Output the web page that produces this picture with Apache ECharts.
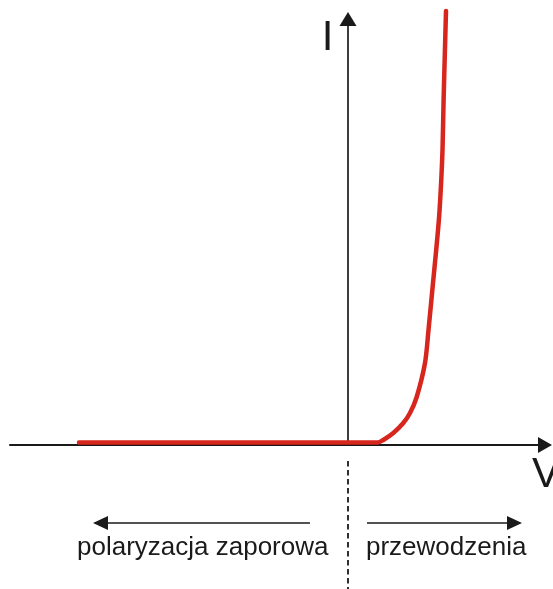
<!DOCTYPE html>
<html>
<head>
<meta charset="utf-8">
<script src="https://cdn.jsdelivr.net/npm/echarts@6/dist/echarts.min.js"></script>
<style>
  html, body { margin: 0; padding: 0; background: #fff; }
  #chart { width: 553px; height: 589px; }
</style>
</head>
<body>
<div id="chart"></div>
<script>
// Diode current–voltage characteristic (arbitrary units: V in volts, I in mA)
const voltage = [-2.69, 0.25, 0.30, 0.353, 0.453, 0.553, 0.62, 0.687, 0.77, 0.805, 0.85, 0.882, 0.911, 0.931, 0.945, 0.956, 0.98];
const current = [0, 0, 0, 0.25, 0.95, 1.95, 2.95, 4.55, 7.95, 11.25, 15.95, 19.25, 22.55, 25.95, 29.25, 34.25, 43.15];

const axisNames = { current: 'I', voltage: 'V' };
const regionLabels = { reverse: 'polaryzacja zaporowa', forward: 'przewodzenia' };

const axisColor = '#1a1a1a';
const curveColor = '#d7261e';
const font = '"Liberation Sans", Arial, Helvetica, sans-serif';

const chart = echarts.init(document.getElementById('chart'), null, { renderer: 'canvas' });

chart.setOption({
  backgroundColor: '#ffffff',
  animation: false,
  grid: { left: 10, top: 19, width: 535, height: 426, containLabel: false },
  xAxis: {
    type: 'value',
    min: -3.38,
    max: 1.97,
    axisLine: {
      onZero: false,
      symbol: ['none', 'triangle'],
      symbolSize: [16, 14],
      lineStyle: { color: axisColor, width: 2 }
    },
    axisTick: { show: false },
    axisLabel: { show: false },
    splitLine: { show: false }
  },
  yAxis: {
    type: 'value',
    min: -0.25,
    max: 42.35,
    axisLine: {
      onZero: true,
      symbol: ['none', 'triangle'],
      symbolSize: [17, 14],
      lineStyle: { color: axisColor, width: 1.7 }
    },
    axisTick: { show: false },
    axisLabel: { show: false },
    splitLine: { show: false }
  },
  series: [{
    type: 'line',
    data: voltage.map((v, i) => [v, current[i]]),
    showSymbol: false,
    smooth: 0.3,
    clip: false,
    z: 5,
    lineStyle: { color: curveColor, width: 4.5, cap: 'round', join: 'round' }
  }]
});

// Decorations placed relative to the origin of the axes
const origin = chart.convertToPixel({ xAxisIndex: 0, yAxisIndex: 0 }, [0, 0]);
const x0 = origin[0];
const arrowY = 523;

function arrowHead(tipX, dir) {
  // dir: -1 points left, +1 points right
  const len = 15, half = 7;
  return {
    type: 'polygon',
    shape: { points: [[tipX, arrowY], [tipX - dir * len, arrowY - half], [tipX - dir * len, arrowY + half]] },
    style: { fill: axisColor }
  };
}

chart.setOption({
  graphic: [
    {
      type: 'text', x: 327.5, y: 38,
      style: { text: axisNames.current, font: '42px ' + font, fill: axisColor, align: 'center', verticalAlign: 'middle' }
    },
    {
      type: 'text', x: 546, y: 475,
      style: { text: axisNames.voltage, font: '42px ' + font, fill: axisColor, align: 'center', verticalAlign: 'middle' }
    },
    {
      type: 'line',
      shape: { x1: x0, y1: 461, x2: x0, y2: 589 },
      style: { stroke: axisColor, lineWidth: 1.8, lineDash: [5.5, 3.5] }
    },
    {
      type: 'line',
      shape: { x1: 100, y1: arrowY, x2: 310, y2: arrowY },
      style: { stroke: axisColor, lineWidth: 1.6 }
    },
    arrowHead(93, -1),
    {
      type: 'line',
      shape: { x1: 367, y1: arrowY, x2: 515, y2: arrowY },
      style: { stroke: axisColor, lineWidth: 1.6 }
    },
    arrowHead(522, 1),
    {
      type: 'text', x: 77, y: 548,
      style: { text: regionLabels.reverse, font: '26px ' + font, fill: axisColor, align: 'left', verticalAlign: 'middle' }
    },
    {
      type: 'text', x: 366, y: 548,
      style: { text: regionLabels.forward, font: '26px ' + font, fill: axisColor, align: 'left', verticalAlign: 'middle' }
    }
  ]
});
</script>
</body>
</html>
